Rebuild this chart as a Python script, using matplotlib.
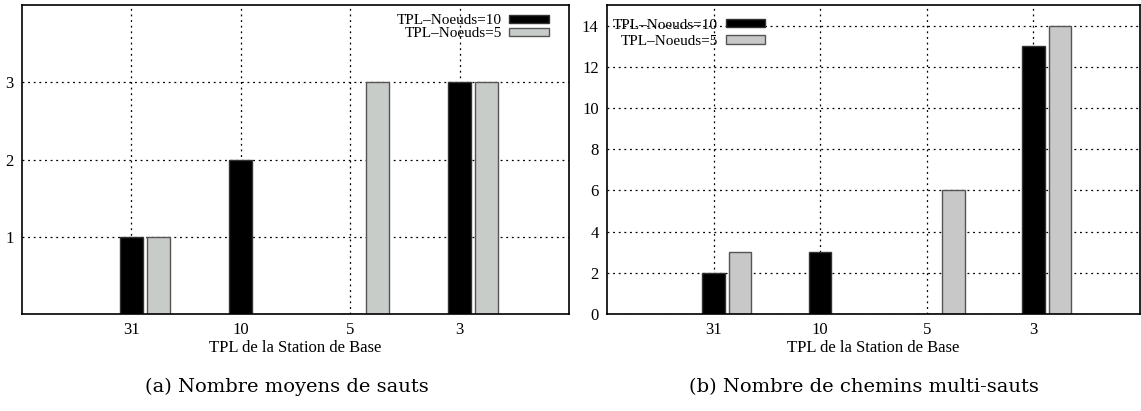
import numpy as np
import matplotlib
matplotlib.use("Agg")
import matplotlib.pyplot as plt
from matplotlib.patches import Patch

categories = ["31", "10", "5", "3"]
series_names = ["TPL\u2013Noeuds=10", "TPL\u2013Noeuds=5"]

# (a) average hop count
hops_10 = [1, 2, 0, 3]
hops_5 = [1, 0, 3, 3]

# (b) number of multi-hop paths
paths_10 = [2, 3, 0, 13]
paths_5 = [3, 0, 6, 14]

xlabel = "TPL de la Station de Base"
captions = ["(a) Nombre moyens de sauts", "(b) Nombre de chemins multi-sauts"]

plt.rcParams['font.family'] = ['Liberation Serif', 'DejaVu Serif']

fig = plt.figure(figsize=(11.41, 4.11), dpi=100)
ax1 = fig.add_axes([22 / 1141, 1 - 314 / 411, 547 / 1141, 309 / 411])
ax2 = fig.add_axes([607 / 1141, 1 - 314 / 411, 533 / 1141, 309 / 411])


def draw(ax, s10, s5, gray, ylim, yticks, legend_loc, legend_anchor, spacing):
    x = np.arange(len(categories))
    ax.set_axisbelow(True)
    ax.bar(x, s10, width=0.21, color="black", edgecolor="#333333", linewidth=1)
    ax.bar(x + 0.25, s5, width=0.21, color=gray, edgecolor="#555555", linewidth=1)
    ax.set_xlim(-1, 4)
    ax.set_ylim(*ylim)
    ax.set_xticks(x)
    ax.set_xticklabels(categories)
    ax.set_yticks(yticks)
    ax.tick_params(axis="x", length=0, labelsize=12, pad=6)
    ax.tick_params(axis="y", length=0, labelsize=12, pad=6)
    ax.grid(True, color="black", linestyle=(0, (1.5, 3)), linewidth=0.9)
    for sp in ax.spines.values():
        sp.set_linewidth(1.2)
    ax.set_xlabel(xlabel, fontsize=12, labelpad=1)
    handles = [Patch(facecolor="black", edgecolor="#333333"),
               Patch(facecolor=gray, edgecolor="#555555")]
    ax.legend(handles, series_names, loc=legend_loc, bbox_to_anchor=legend_anchor,
              frameon=False, markerfirst=False, fontsize=11,
              handlelength=2.6, handleheight=0.45, handletextpad=0.5,
              labelspacing=spacing, borderaxespad=0)


draw(ax1, hops_10, hops_5, "#c8ccc8", (0, 4), [1, 2, 3],
     "upper right", (0.975, 0.99), 0.0)
draw(ax2, paths_10, paths_5, "#c8c8c8", (0, 15), list(range(0, 15, 2)),
     "upper left", (0.0, 0.975), 0.2)

fig.text(287 / 1141, 1 - 387 / 411, captions[0], ha="center", va="center",
         fontsize=14, family="DejaVu Serif")
fig.text(864 / 1141, 1 - 387 / 411, captions[1], ha="center", va="center",
         fontsize=14, family="DejaVu Serif")

fig.savefig("out.png", dpi=100)
